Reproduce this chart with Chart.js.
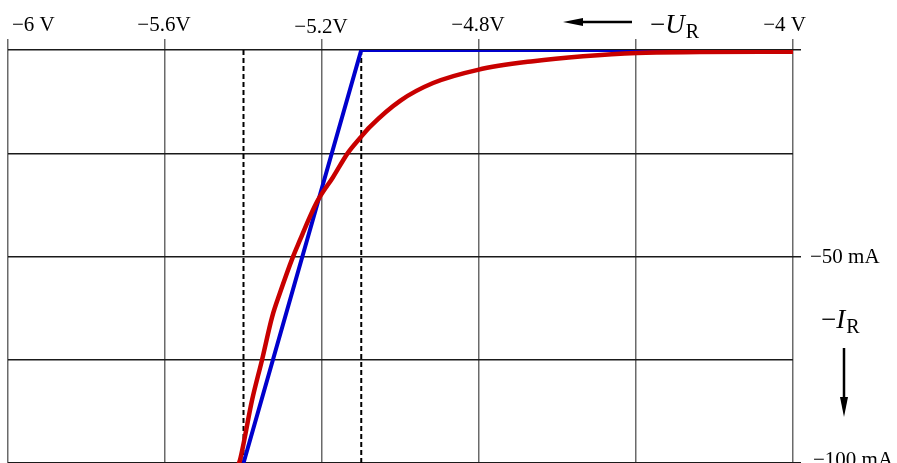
<!DOCTYPE html>
<html>
<head>
<meta charset="utf-8">
<script src="https://cdn.jsdelivr.net/npm/chart.js@4.4.1/dist/chart.umd.min.js"></script>
<style>
  html, body { margin: 0; padding: 0; background: #fff; }
  #wrap { position: relative; width: 897px; height: 463px; }
</style>
</head>
<body>
<div id="wrap"><canvas id="chart" width="897" height="463"></canvas></div>
<script>
// Zener diode reverse characteristic

const xTickValues = [-6, -5.6, -5.2, -4.8, -4.4, -4];
const xTickLabels = ['−6 V', '−5.6V', '−5.2V', '−4.8V', '', '−4 V'];
const yTickValues = [0, -25, -50, -75, -100];
const yTickLabels = ['', '', '−50 mA', '', '−100 mA'];

// measured curve (red)
const measuredU = [-5.415, -5.409, -5.378, -5.353, -5.327, -5.307, -5.274, -5.256, -5.231, -5.210,
                   -5.172, -5.134, -5.103, -5.078, -5.001, -4.917, -4.803, -4.662, -4.535, -4.397,
                   -4.237, -4.0];
const measuredI = [-101, -99.3, -84.7, -75.1, -64.6, -58.8, -50.1, -46.0, -40.4, -36.3,
                   -30.8, -24.9, -21.3, -18.6, -12.3, -8.0, -4.8, -2.7, -1.5, -0.7,
                   -0.5, -0.4];

// idealised characteristic (blue)
const idealU = [-4, -5.1, -5.4];
const idealI = [0, 0, -100];

// dashed markers
const markerU = [-5.4, -5.1];

const toPoints = (xs, ys) => xs.map((v, i) => ({ x: v, y: ys[i] }));

const markerSets = markerU.map(u => ({
    data: [{ x: u, y: 0 }, { x: u, y: -100 }],
    showLine: true,
    borderColor: '#000',
    borderWidth: 2,
    borderDash: [5, 3],
    pointRadius: 0
}));

const labelPlugin = {
    id: 'labels',
    afterDraw(chart) {
        const { ctx, scales: { x, y } } = chart;
        ctx.save();
        ctx.fillStyle = '#000';
        ctx.strokeStyle = '#000';
        ctx.font = '21px "Liberation Serif"';
        ctx.textBaseline = 'alphabetic';

        // top tick labels
        xTickValues.forEach((v, i) => {
            const label = xTickLabels[i];
            if (!label) return;
            const px = x.getPixelForValue(v);
            if (i === 0) {
                ctx.textAlign = 'left';
                ctx.fillText(label, px + 4, 31);
            } else if (i === xTickValues.length - 1) {
                ctx.textAlign = 'right';
                ctx.fillText(label, px + 13, 31);
            } else {
                ctx.textAlign = 'center';
                ctx.fillText(label, px - 1, v === -5.2 ? 33 : 31);
            }
        });

        // right tick labels
        ctx.textAlign = 'left';
        yTickValues.forEach((v, i) => {
            const label = yTickLabels[i];
            if (!label) return;
            const py = y.getPixelForValue(v);
            ctx.fillText(label, x.right + 17 + (v === -100 ? 3 : 0), py + (v === -100 ? 3 : 6));
        });

        // axis symbols
        const symbol = (sx, sy, letter) => {
            ctx.textAlign = 'left';
            ctx.font = '27px "Liberation Serif"';
            ctx.fillText('−', sx, sy);
            let w = ctx.measureText('−').width;
            ctx.font = 'italic 27px "Liberation Serif"';
            ctx.fillText(letter, sx + w, sy);
            w += ctx.measureText(letter).width;
            ctx.font = '20px "Liberation Serif"';
            ctx.fillText('R', sx + w + 1, sy + 5);
        };
        symbol(650, 33, 'U');
        symbol(821, 328, 'I');

        // arrows
        ctx.lineWidth = 2.5;
        ctx.beginPath();
        ctx.moveTo(632, 22);
        ctx.lineTo(578, 22);
        ctx.stroke();
        ctx.beginPath();
        ctx.moveTo(563, 22);
        ctx.lineTo(583, 18);
        ctx.lineTo(583, 26);
        ctx.closePath();
        ctx.fill();

        ctx.beginPath();
        ctx.moveTo(844, 348);
        ctx.lineTo(844, 402);
        ctx.stroke();
        ctx.beginPath();
        ctx.moveTo(844, 417);
        ctx.lineTo(840, 397);
        ctx.lineTo(848, 397);
        ctx.closePath();
        ctx.fill();

        ctx.restore();
    }
};

new Chart(document.getElementById('chart'), {
    type: 'scatter',
    data: {
        datasets: [
            {
                data: toPoints(measuredU, measuredI),
                showLine: true,
                borderColor: '#c80000',
                borderWidth: 4.5,
                cubicInterpolationMode: 'monotone',
                pointRadius: 0
            },
            {
                data: toPoints(idealU, idealI),
                showLine: true,
                borderColor: '#0000cc',
                borderWidth: 4,
                pointRadius: 0
            },
            ...markerSets
        ]
    },
    options: {
        responsive: false,
        animation: false,
        layout: { padding: { left: 8, right: 96, top: 39, bottom: 0 } },
        plugins: {
            legend: { display: false },
            tooltip: { enabled: false }
        },
        scales: {
            x: {
                type: 'linear',
                position: 'top',
                min: -6,
                max: -4,
                ticks: { display: false, stepSize: 0.4 },
                afterBuildTicks: axis => { axis.ticks = xTickValues.map(v => ({ value: v })); },
                grid: { color: '#6a6a6a', lineWidth: 1.5, tickLength: 11, tickColor: '#6a6a6a' },
                border: { display: false }
            },
            y: {
                type: 'linear',
                position: 'right',
                min: -100,
                max: 0,
                ticks: { display: false, stepSize: 25 },
                afterBuildTicks: axis => { axis.ticks = yTickValues.map(v => ({ value: v })); },
                grid: {
                    color: '#1a1a1a',
                    lineWidth: 1.5,
                    tickLength: 8,
                    tickColor: ctx => (ctx.tick && [0, -50, -100].includes(ctx.tick.value)) ? '#1a1a1a' : 'rgba(0,0,0,0)'
                },
                border: { display: false }
            }
        }
    },
    plugins: [labelPlugin]
});
</script>
</body>
</html>
